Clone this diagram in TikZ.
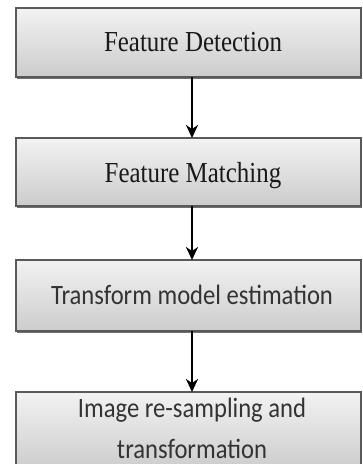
\documentclass[tikz,border=0pt]{standalone}
\usepackage{fontspec}
\setmainfont{Liberation Serif}
\newfontfamily\calibri{Carlito}
\usetikzlibrary{arrows.meta,shadows}
\newcommand{\sqz}[2]{\scalebox{#1}[1]{#2}}
\tikzset{
  boxstyle/.style={draw=black!65, line width=1.1pt, top color=white!95!black, bottom color=black!20,
    drop shadow={shadow xshift=0.6pt, shadow yshift=-1.6pt, fill=black!70, opacity=0.8}},
  serif/.style={font=\fontsize{29}{41}\selectfont, text=black!90, align=center, inner sep=0pt, anchor=base},
  sans/.style={font=\calibri\fontsize{28}{41}\selectfont, text=black!80, align=center, inner sep=0pt, anchor=base},
  flow/.style={-{Stealth[length=13pt,width=12pt,inset=4pt]}, line width=2.4pt, black}
}
\begin{document}
\begin{tikzpicture}[x=1pt,y=-1pt]
\useasboundingbox (0,0) rectangle (363,464);
\path[boxstyle] (16,8) rectangle (361,77);
\path[boxstyle] (16,138) rectangle (361,206);
\path[boxstyle] (16,260) rectangle (361,331);
\path[boxstyle] (16,392) rectangle (361,470);
\coordinate (b1) at (192,77);
\coordinate (t2) at (192,138);
\coordinate (b2) at (192,206);
\coordinate (t3) at (192,260);
\coordinate (b3) at (192,331);
\coordinate (t4) at (192,392);
\node[serif] (n1) at (193,51.7) {\sqz{0.86}{Feature Detection}};
\node[serif] (n2) at (193,182.7) {\sqz{0.86}{Feature Matching}};
\node[sans] (n3) at (192,304) {\sqz{0.88}{Transform model estimation}};
\node[sans] (n4) at (192,458) {\sqz{0.88}{Image re-sampling and}\\\sqz{0.88}{transformation}};
\draw[flow] (b1) -- (t2);
\draw[flow] (b2) -- (t3);
\draw[flow] (b3) -- (t4);
\end{tikzpicture}
\end{document}
